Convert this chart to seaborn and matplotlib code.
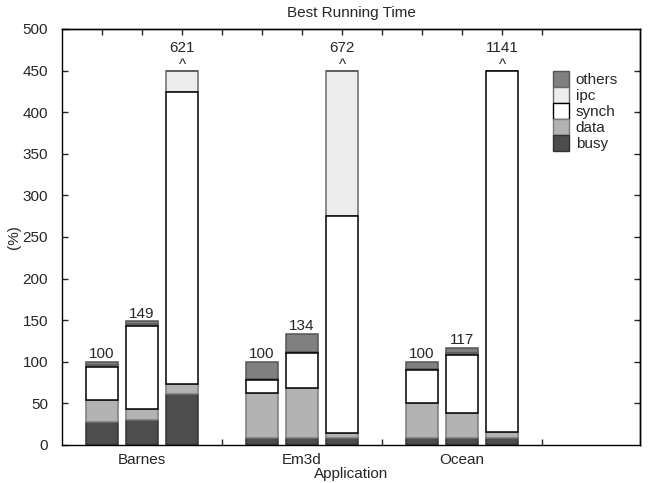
import numpy as np
import pandas as pd
import matplotlib
matplotlib.use('Agg')
import matplotlib.pyplot as plt
from matplotlib.patches import Patch
import seaborn as sns

sns.set_style("ticks")
plt.rcParams['font.family'] = ['Liberation Sans', 'DejaVu Sans']

apps = ['Barnes', 'Em3d', 'Ocean']
components = ['busy', 'data', 'synch', 'ipc', 'others']
# three runs per application, values in % of the baseline run
busy = [28, 30, 61, 9, 9, 9, 8, 8, 8]
data = [26, 13, 12, 53, 60, 6, 42, 30, 8]
synch = [40, 100, 351, 16, 41, 260, 40, 70, 1125]
ipc = [2, 2, 197, 1, 2, 397, 1, 2, 0]
others = [4, 4, 0, 21, 22, 0, 9, 7, 0]
totals = [100, 149, 621, 100, 134, 672, 100, 117, 1141]

colors = {'busy': '#4d4d4d', 'data': '#b3b3b3', 'synch': 'white',
          'ipc': '#ededed', 'others': '#808080'}
edges = {'busy': '#333333', 'data': '#7a7a7a', 'synch': 'black',
         'ipc': '#6a6a6a', 'others': '#555555'}
cap = 450
fs = 11

# bar slots: 3 bars per group, one empty slot between groups
pos = [g * 4 + b + 1 for g in range(len(apps)) for b in range(3)]
df = pd.DataFrame({'pos': pos, 'busy': busy, 'data': data, 'synch': synch,
                   'ipc': ipc, 'others': others, 'total': totals})

cum = df[components].cumsum(axis=1).clip(upper=cap)
low = cum.shift(1, axis=1).fillna(0)

fig = plt.figure(figsize=(6.51, 4.83), dpi=100)
ax = fig.add_axes([62 / 651, 38 / 483, 578 / 651, 416 / 483])

# synch drawn last so its black outline stays on top
for c in ['busy', 'data', 'ipc', 'others', 'synch']:
    sns.barplot(x=df['pos'], y=cum[c] - low[c], bottom=low[c], native_scale=True,
                color=colors[c], edgecolor=edges[c], linewidth=1.1, saturation=1,
                errorbar=None, ax=ax)

for x, t in zip(df['pos'], df['total']):
    if t <= cap:
        ax.text(x, t + 4, str(t), ha='center', va='baseline', fontsize=fs)
    else:
        ax.text(x, cap + 2, '^', ha='center', va='baseline', fontsize=fs)
        ax.text(x, cap + 22, str(t), ha='center', va='baseline', fontsize=fs)

ax.set_xlim(0, 14.45)
ax.set_ylim(0, 500)
ax.set_yticks(np.arange(0, 501, 50))
ax.set_xticks([2, 6, 10])
ax.set_xticklabels(apps)
ax.set_xticks([4, 8, 12], minor=True)
ax.tick_params(axis='x', which='major', length=0, pad=6, labelsize=fs)
ax.tick_params(axis='x', which='minor', direction='in', length=4, width=1)
ax.tick_params(axis='y', direction='in', length=4, width=1, pad=10, labelsize=fs)

top = ax.secondary_xaxis('top')
top.set_xticks(range(1, 13))
top.tick_params(direction='in', length=4, width=1, labeltop=False)
right = ax.secondary_yaxis('right')
right.set_yticks(np.arange(50, 451, 50))
right.tick_params(direction='in', length=4, width=1, labelright=False)

for sp in list(ax.spines.values()) + [top.spines['top'], right.spines['right']]:
    sp.set_visible(True)
    sp.set_linewidth(1.0)
    sp.set_color('black')

ax.set_title('Best Running Time', fontsize=fs, pad=9)
ax.set_xlabel('Application', fontsize=fs, labelpad=0)
ax.set_ylabel('(%)', fontsize=fs, labelpad=1)

handles = [Patch(facecolor=colors[c], edgecolor=edges[c], linewidth=1.0, label=c)
           for c in components[::-1]]
ax.legend(handles=handles, loc='upper left', bbox_to_anchor=(0.849, 0.899),
          frameon=False, borderpad=0, borderaxespad=0, labelspacing=0,
          handlelength=1.06, handleheight=1.22, handletextpad=0.45, fontsize=fs)

fig.savefig('out.png', dpi=100)
